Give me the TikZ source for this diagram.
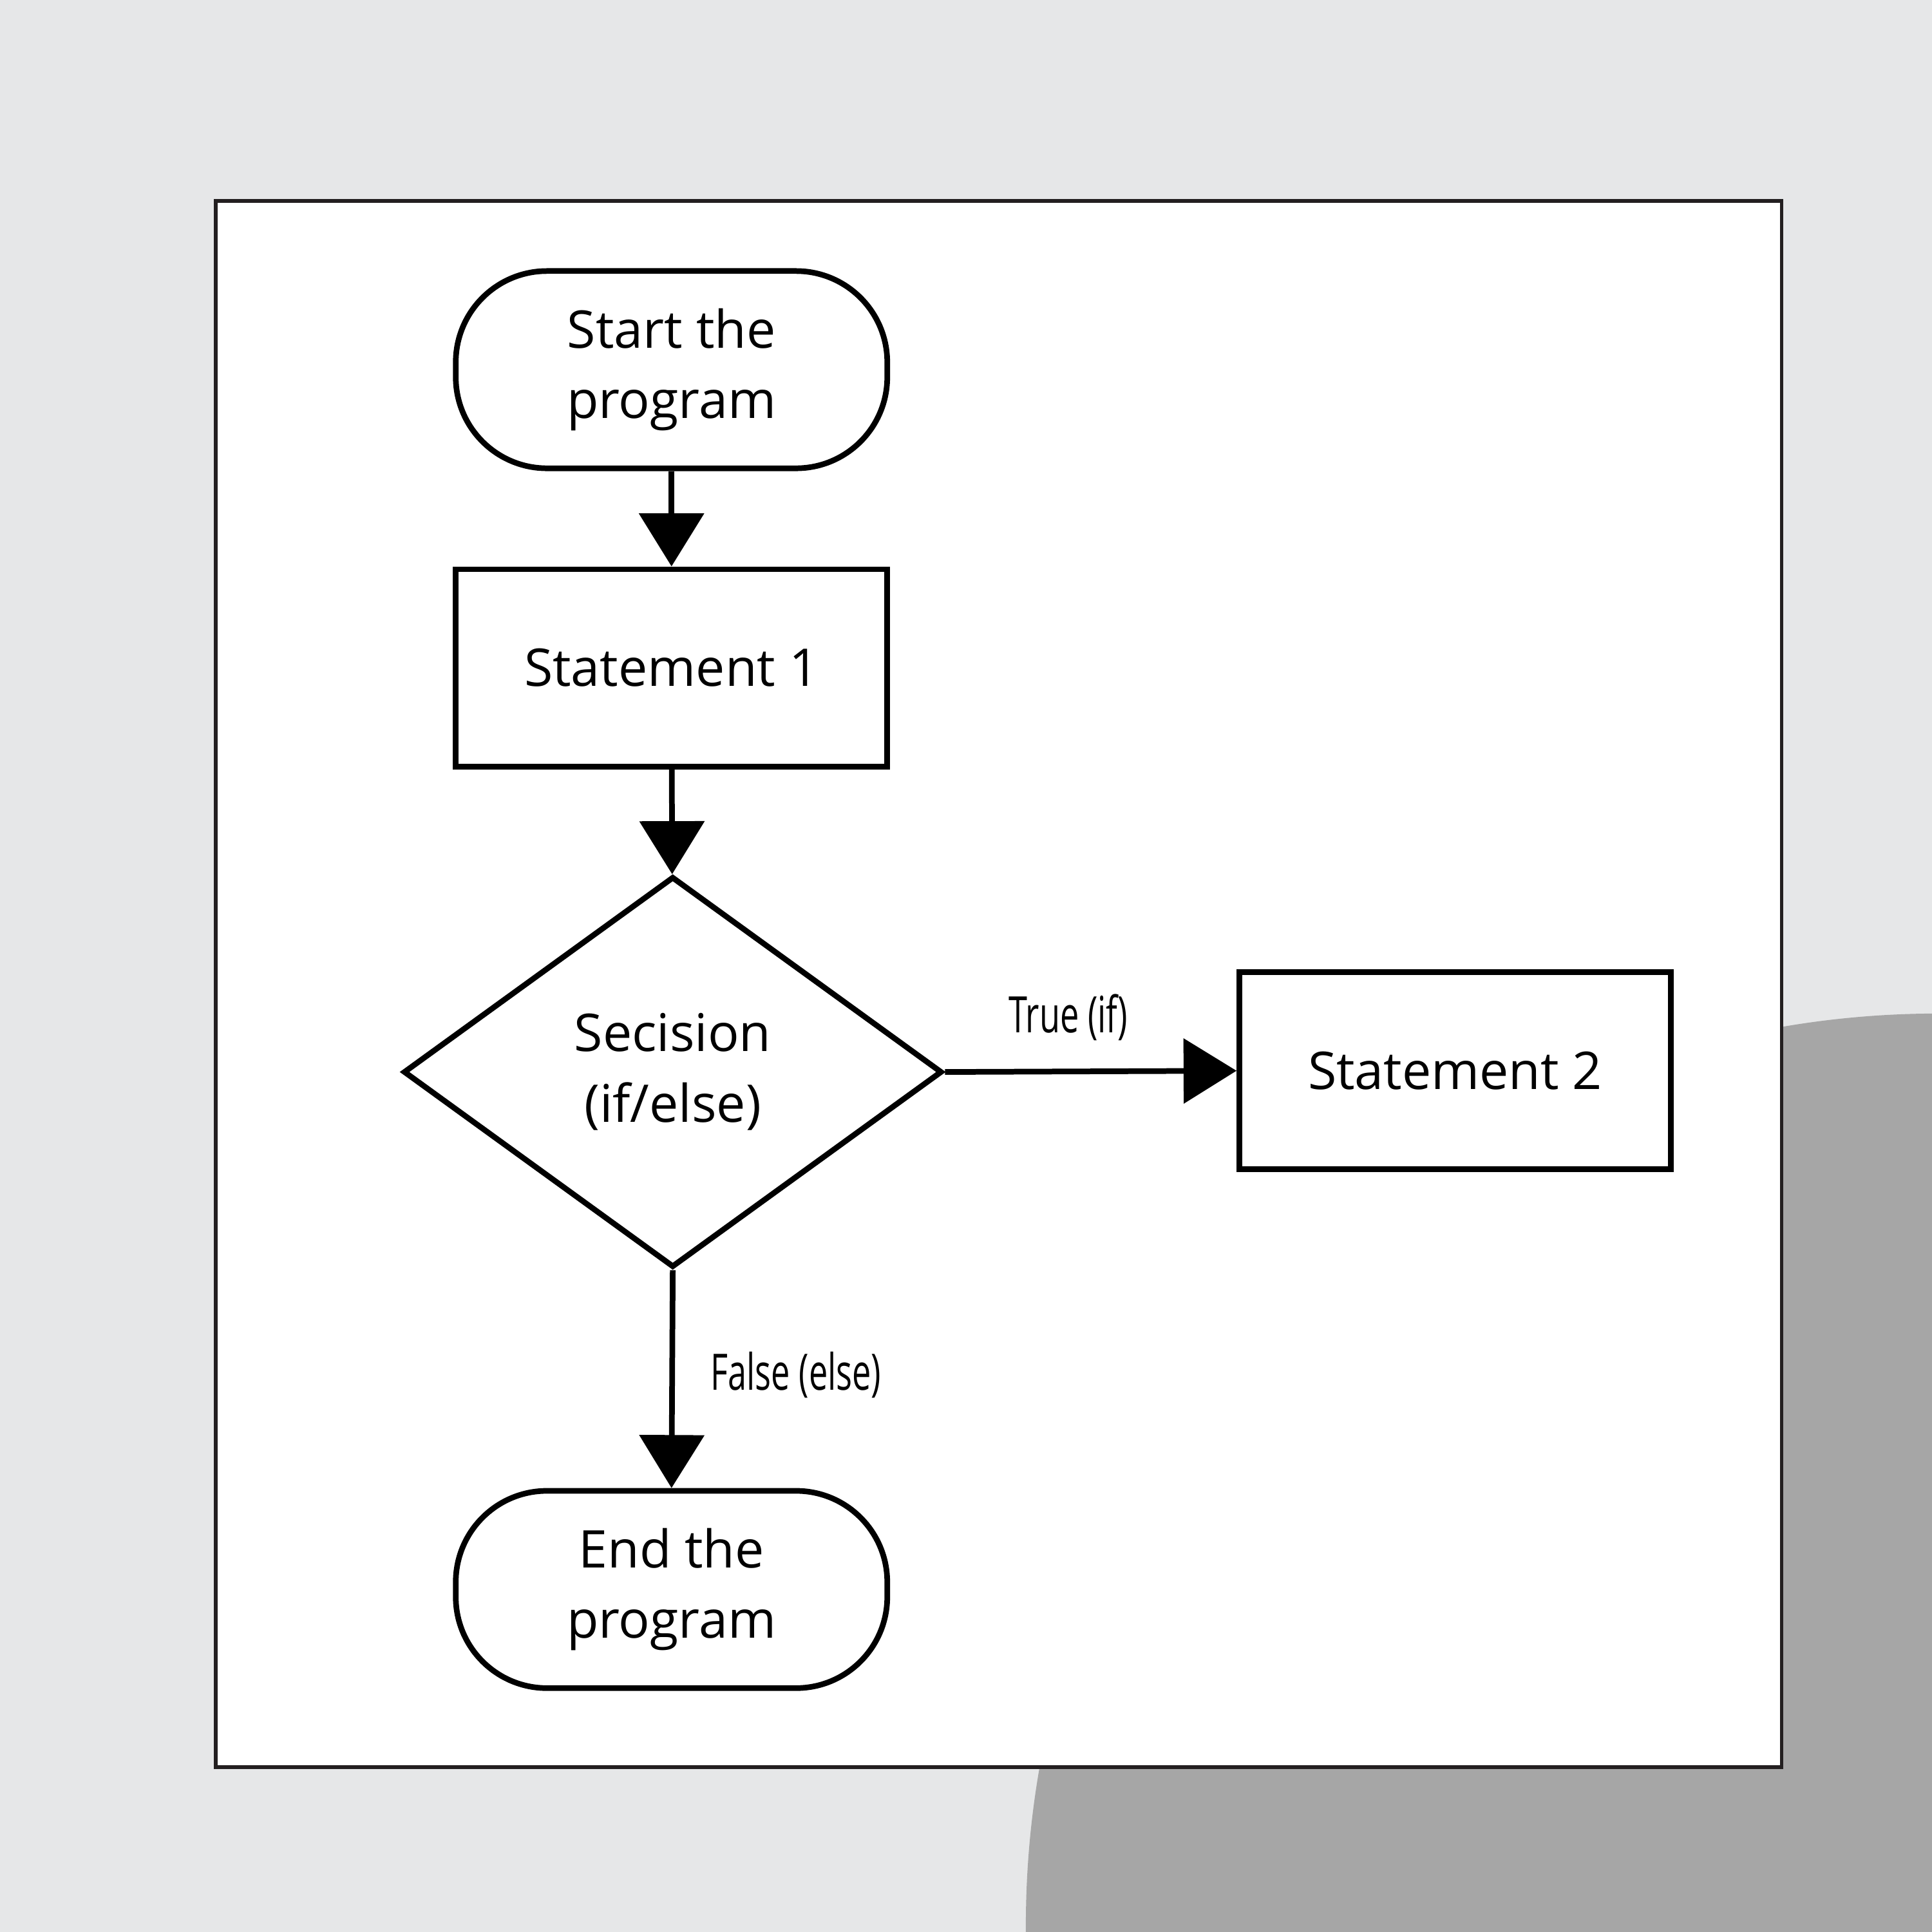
\documentclass[tikz,border=0pt]{standalone}
\usepackage{fontspec}
\setmainfont{Open Sans}
\newfontfamily\condfont{Open Sans}[FakeStretch=0.67]
\usepackage{tikz}
\usetikzlibrary{arrows.meta}
\usetikzlibrary{shapes.geometric}
\usepackage{xcolor}
\definecolor{bggray}{HTML}{E6E7E8}
\definecolor{blobgray}{HTML}{A6A6A6}
\definecolor{frameblack}{HTML}{231F20}
\tikzset{
    terminal/.style={
        draw,
        rectangle,
        rounded corners=7.4mm,
        fill=white,
        minimum width=3.5cm,
        minimum height=1.6cm,
        line width=1.3pt,
        align=center,
        font=\fontsize{12}{16.3}\selectfont
    },
    process/.style={
        draw,
        rectangle,
        fill=white,
        minimum width=3.5cm,
        minimum height=1.6cm,
        line width=1.3pt,
        font=\fontsize{12}{16.3}\selectfont
    },
    decision/.style={
        draw,
        diamond,
        fill=white,
        minimum width=4.37cm,
        minimum height=3.17cm,
        inner sep=0pt,
        line width=1.3pt,
        align=center,
        font=\fontsize{12}{16.3}\selectfont
    },
    lbl/.style={
        anchor=base,
        inner sep=0pt,
        font=\condfont\fontsize{11.6}{14}\selectfont
    },
    flow/.style={
        draw,
        line width=1.3pt,
        -{Triangle[length=4.3mm, width=5.2mm]}
    }
}

\begin{document}
\begin{tikzpicture}[x=0.01cm, y=-0.01cm]
    \useasboundingbox (0,0) rectangle (1568,1568);
    % background
    \begin{scope}
        \clip (0,0) rectangle (1568,1568);
        \fill[bggray] (0,0) rectangle (1568,1568);
        \fill[blobgray] (1573,1563) circle (7.4cm);
    \end{scope}
    \draw[frameblack, line width=0.85pt, fill=white] (175,163) rectangle (1446,1434);

    \node[terminal] (start) at (545,300) {Start the\\program};
    \node[process] (st1) at (545,542) {Statement 1};
    \node[decision] (dec) at (546,870) {Secision\\(if/else)};
    \node[process] (st2) at (1181,869) {Statement 2};
    \node[terminal] (fin) at (545,1290) {End the\\program};

    \draw[flow] (start) -- (st1);
    \draw[flow] (st1) -- (dec);
    \draw[flow] (dec.east) -- (st2.west);
    \draw[flow] (dec.south) -- (fin.north);

    \node[lbl] (truelbl) at (867,838) {True (if)};
    \node[lbl] (falselbl) at (646,1128) {False (else)};
\end{tikzpicture}
\end{document}
